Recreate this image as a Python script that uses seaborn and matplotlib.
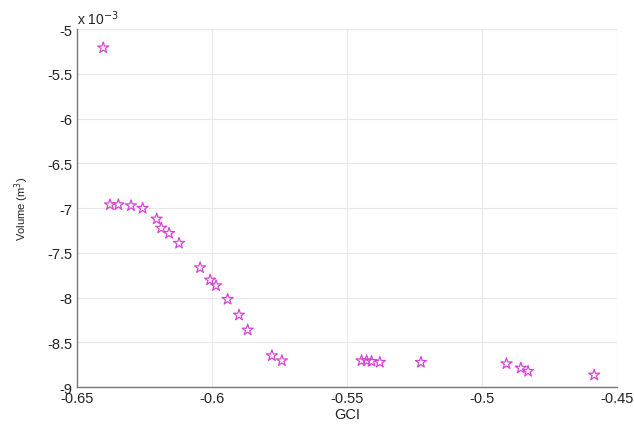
import matplotlib
matplotlib.use("Agg")
import matplotlib.pyplot as plt
import seaborn as sns
import pandas as pd

# GCI values and Volume (in units of 1e-3 m^3)
gci = [-0.6403, -0.6378, -0.6347, -0.6300, -0.6257, -0.6205, -0.6188, -0.6159,
       -0.6122, -0.6044, -0.6007, -0.5985, -0.5942, -0.5900, -0.5868, -0.5778,
       -0.5741, -0.5446, -0.5427, -0.5409, -0.5378, -0.5226, -0.4909, -0.4856,
       -0.4829, -0.4584]
volume_e3 = [-5.21, -6.963, -6.963, -6.974, -7.003, -7.123, -7.224, -7.283,
             -7.394, -7.667, -7.804, -7.868, -8.020, -8.196, -8.363, -8.650,
             -8.706, -8.706, -8.706, -8.713, -8.724, -8.724, -8.740, -8.788,
             -8.825, -8.866]
xticks = [-0.65, -0.6, -0.55, -0.5, -0.45]
xticklabels = ["-0.65", "-0.6", "-0.55", "-0.5", "-0.45"]
yticks = [-9, -8.5, -8, -7.5, -7, -6.5, -6, -5.5, -5]
yticklabels = ["-9", "-8.5", "-8", "-7.5", "-7", "-6.5", "-6", "-5.5", "-5"]

df = pd.DataFrame({"GCI": gci, "Volume": volume_e3})

sns.set_style("white")
plt.rcParams['font.family'] = ['Liberation Sans', 'DejaVu Sans']

fig = plt.figure(figsize=(6.34, 4.27), dpi=100)
ax = fig.add_axes([0.1215, 0.0913, 0.8515, 0.8384])

sns.scatterplot(data=df, x="GCI", y="Volume", ax=ax, marker="*", s=70,
                facecolor="none", edgecolor="#d646d6", linewidth=0.9, zorder=3)

ax.set_xlim(-0.65, -0.45)
ax.set_ylim(-9, -5)
ax.set_xticks(xticks)
ax.set_xticklabels(xticklabels)
ax.set_yticks(yticks)
ax.set_yticklabels(yticklabels)
ax.grid(True, color="#e8e8e8", linewidth=0.8, zorder=0)
ax.set_axisbelow(True)
for s in ["top", "right"]:
    ax.spines[s].set_visible(False)
for s in ["left", "bottom"]:
    ax.spines[s].set_color("#777777")
    ax.spines[s].set_linewidth(1.0)
ax.tick_params(direction="in", length=4, color="#777777", labelsize=10.5,
               labelcolor="#222222", pad=3)
ax.set_xlabel("GCI", fontsize=10.5, color="#222222", labelpad=1)
ax.set_ylabel("Volume (m$^3$)", fontsize=8, color="#222222", labelpad=12)
ax.text(0.0, 1.005, r"x 10$^{-3}$", transform=ax.transAxes, fontsize=10,
        color="#222222", ha="left", va="bottom")

fig.savefig("out.png", dpi=100)
